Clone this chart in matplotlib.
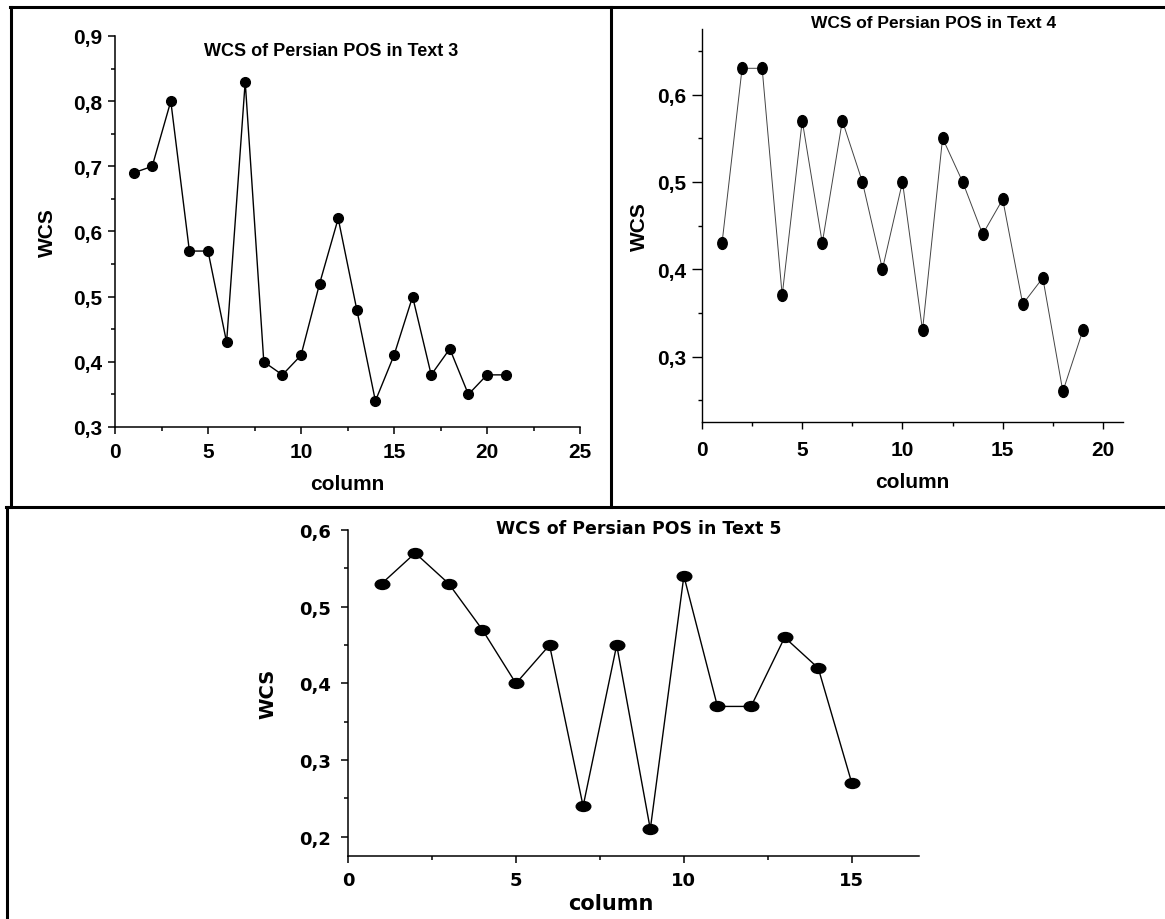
import matplotlib
matplotlib.use("Agg")
import matplotlib.pyplot as plt
from matplotlib import font_manager
from matplotlib.lines import Line2D
from matplotlib.path import Path
from matplotlib.transforms import Affine2D
from matplotlib.ticker import MultipleLocator, FuncFormatter

# data
cols_t3 = list(range(1, 22))
wcs_t3 = [0.69, 0.70, 0.80, 0.57, 0.57, 0.43, 0.83, 0.40, 0.38, 0.41, 0.52,
          0.62, 0.48, 0.34, 0.41, 0.50, 0.38, 0.42, 0.35, 0.38, 0.38]

cols_t4 = list(range(1, 20))
wcs_t4 = [0.43, 0.63, 0.63, 0.37, 0.57, 0.43, 0.57, 0.50, 0.40, 0.50, 0.33,
          0.55, 0.50, 0.44, 0.48, 0.36, 0.39, 0.26, 0.33]

cols_t5 = list(range(1, 16))
wcs_t5 = [0.53, 0.57, 0.53, 0.47, 0.40, 0.45, 0.24, 0.45, 0.21, 0.54, 0.37,
          0.37, 0.46, 0.42, 0.27]

titles = ["WCS of Persian POS in Text 3",
          "WCS of Persian POS in Text 4",
          "WCS of Persian POS in Text 5"]

names = {f.name for f in font_manager.fontManager.ttflist}
BASE = "Liberation Sans" if "Liberation Sans" in names else "DejaVu Sans"
NARROW = "Liberation Sans Narrow" if "Liberation Sans Narrow" in names else BASE
WIDE = "DejaVu Sans"

W, H = 1165, 920
fig = plt.figure(figsize=(W / 100, H / 100), dpi=100)


def px(x0, y0, x1, y1):
    # pixel box -> figure fraction rect
    return [x0 / W, 1 - y1 / H, (x1 - x0) / W, (y1 - y0) / H]


comma = FuncFormatter(lambda v, p: ("%g" % round(v, 2)).replace(".", ","))


def style(ax, font, size, xmaj, ymaj, lw=1.1):
    for s in ("top", "right"):
        ax.spines[s].set_visible(False)
    for s in ("left", "bottom"):
        ax.spines[s].set_linewidth(lw)
    ax.xaxis.set_major_locator(MultipleLocator(xmaj))
    ax.xaxis.set_minor_locator(MultipleLocator(xmaj / 2))
    ax.yaxis.set_major_locator(MultipleLocator(ymaj))
    ax.yaxis.set_minor_locator(MultipleLocator(ymaj / 2))
    ax.yaxis.set_major_formatter(comma)
    ax.tick_params(which="major", direction="out", length=5, width=lw)
    ax.tick_params(which="minor", direction="out", length=3, width=lw)
    for lab in ax.get_xticklabels() + ax.get_yticklabels():
        lab.set_fontfamily(font)
        lab.set_fontweight("bold")
        lab.set_fontsize(size)


circle = Path.unit_circle()
tall = circle.transformed(Affine2D().scale(0.8, 1.0))
flat = circle.transformed(Affine2D().scale(1.0, 0.68))

# Text 3
ax1 = fig.add_axes(px(115, 37, 580, 428))
ax1.plot(cols_t3, wcs_t3, color="black", lw=1.0, marker="o", ms=7,
         mfc="black", mec="black")
ax1.set_xlim(0, 25)
ax1.set_ylim(0.3, 0.9)
style(ax1, BASE, 15, 5, 0.1)
ax1.tick_params(axis="x", which="major", pad=6)
ax1.tick_params(axis="y", which="major", pad=4)
ax1.text(0.465, 0.985, titles[0], transform=ax1.transAxes, ha="center",
         va="top", fontfamily=BASE, fontweight="bold", fontsize=13)
ax1.set_xlabel("column", fontfamily=BASE, fontweight="bold", fontsize=15,
               labelpad=9)
ax1.set_ylabel("WCS", fontfamily=BASE, fontweight="bold", fontsize=15,
               labelpad=12)

# Text 4
ax2 = fig.add_axes(px(702, 30, 1123, 423))
ax2.plot(cols_t4, wcs_t4, color="#444444", lw=0.7, marker=tall, ms=8.5,
         mfc="black", mec="black", linestyle="-")
ax2.set_xlim(0, 21)
ax2.set_ylim(0.225, 0.675)
style(ax2, NARROW, 15, 5, 0.1, lw=1.0)
ax2.tick_params(axis="x", which="major", pad=8)
ax2.tick_params(axis="y", which="major", pad=4, length=7)
ax2.text(0.55, 1.035, titles[1], transform=ax2.transAxes, ha="center",
         va="top", fontfamily=NARROW, fontweight="bold", fontsize=12.5)
ax2.set_xlabel("column", fontfamily=BASE, fontweight="bold", fontsize=15,
               labelpad=9)
ax2.set_ylabel("WCS", fontfamily=BASE, fontweight="bold", fontsize=15,
               labelpad=6)

# Text 5
ax3 = fig.add_axes(px(348, 531, 919, 857))
ax3.plot(cols_t5, wcs_t5, color="black", lw=1.0, marker=flat, ms=10.5,
         mfc="black", mec="black")
ax3.set_xlim(0, 17)
ax3.set_ylim(0.175, 0.6)
style(ax3, WIDE, 13, 5, 0.1)
ax3.tick_params(axis="x", which="major", pad=6)
ax3.tick_params(axis="y", which="major", pad=7)
ax3.text(0.51, 1.035, titles[2], transform=ax3.transAxes, ha="center",
         va="top", fontfamily=WIDE, fontweight="bold", fontsize=12.5)
ax3.set_xlabel("column", fontfamily=WIDE, fontweight="bold", fontsize=15,
               labelpad=2)
ax3.xaxis.set_label_coords(0.46, -0.115)
ax3.set_ylabel("WCS", fontfamily=WIDE, fontweight="bold", fontsize=14,
               labelpad=16)

# panel borders
def hline(y, x0, x1):
    fig.add_artist(Line2D([x0 / W, x1 / W], [1 - y / H, 1 - y / H],
                          color="black", lw=2.2))


def vline(x, y0, y1):
    fig.add_artist(Line2D([x / W, x / W], [1 - y0 / H, 1 - y1 / H],
                          color="black", lw=2.2))


hline(8, 10, 1163)
vline(11, 8, 508)
vline(611, 8, 508)
hline(508, 6, 1165)
vline(7, 508, 920)

fig.savefig("out.png", dpi=100)
